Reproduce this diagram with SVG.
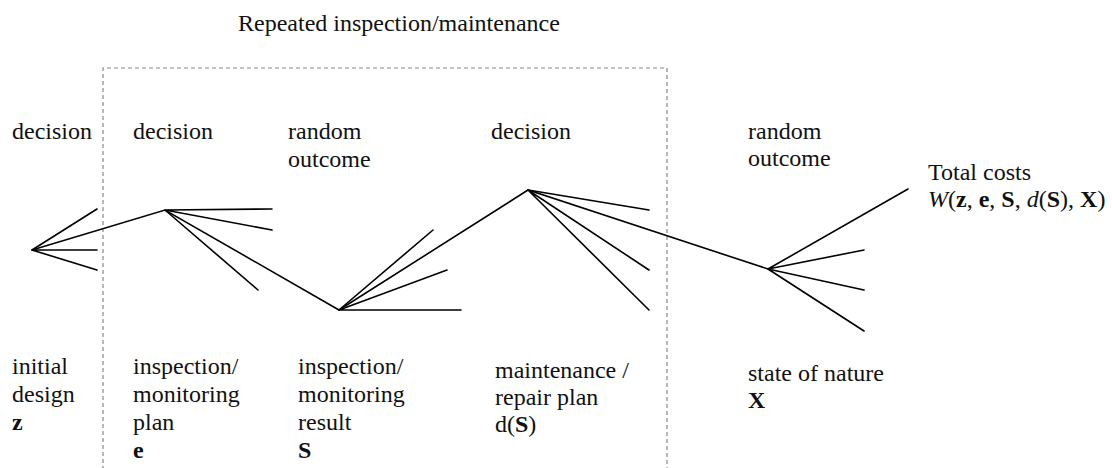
<svg xmlns="http://www.w3.org/2000/svg" width="1112" height="468" viewBox="0 0 1112 468">
<style>
text{font-family:"Liberation Serif","Times New Roman",serif;font-size:24px;fill:#111}
.b{font-weight:bold}
.i{font-style:italic}
.br{stroke:#000;stroke-width:1.6;fill:none;stroke-linecap:round}
.box{stroke:#888;stroke-width:1.2;fill:none;stroke-dasharray:4 3}
</style>
<rect width="1112" height="468" fill="#fff"/>
<g id="repeat-box">
<path class="box" d="M103,470 V68 H667 V470"/>
<text x="238" y="31">Repeated inspection/maintenance</text>
</g>
<g id="connectors">
<path class="br" d="M32,250 L165,210 L339,310 L528,190 L768,269"/>
</g>
<g id="node-initial">
<path class="br" d="M32,250 L97,209 M32,250 L97,250 M32,250 L97,270"/>
<text x="12" y="139">decision</text>
<text x="12" y="374">initial</text>
<text x="12" y="402">design</text>
<text x="12" y="430" class="b">z</text>
</g>
<g id="node-plan">
<path class="br" d="M165,210 L272,209 M165,210 L272,230 M165,210 L258,290"/>
<text x="133" y="139">decision</text>
<text x="133" y="374">inspection/</text>
<text x="133" y="402">monitoring</text>
<text x="133" y="430">plan</text>
<text x="133" y="458" class="b">e</text>
</g>
<g id="node-result">
<path class="br" d="M339,310 L433,230 M339,310 L447,270 M339,310 L461,310"/>
<text x="288" y="139">random</text>
<text x="288" y="167">outcome</text>
<text x="298" y="374">inspection/</text>
<text x="298" y="402">monitoring</text>
<text x="298" y="430">result</text>
<text x="298" y="458" class="b">S</text>
</g>
<g id="node-repair">
<path class="br" d="M528,190 L649,210 M528,190 L649,270 M528,190 L649,310"/>
<text x="491" y="139">decision</text>
<text x="495" y="378">maintenance /</text>
<text x="495" y="405">repair plan</text>
<text x="495" y="432">d(<tspan class="b">S</tspan>)</text>
</g>
<g id="node-nature">
<path class="br" d="M768,269 L908,189 M768,269 L864,250 M768,269 L864,290 M768,269 L864,331"/>
<text x="748" y="139">random</text>
<text x="748" y="166">outcome</text>
<text x="748" y="381">state of nature</text>
<text x="748" y="408" class="b">X</text>
</g>
<g id="total-costs">
<text x="928" y="180">Total costs</text>
<text x="928" y="207"><tspan class="i">W</tspan>(<tspan class="b">z</tspan>, <tspan class="b">e</tspan>, <tspan class="b">S</tspan>, <tspan class="i">d</tspan>(<tspan class="b">S</tspan>), <tspan class="b">X</tspan>)</text>
</g>
</svg>
